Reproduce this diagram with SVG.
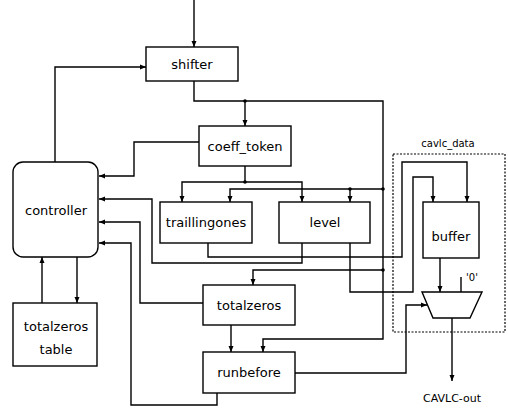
<svg xmlns="http://www.w3.org/2000/svg" width="508" height="408" viewBox="0 0 508 408">
<style>
.box{fill:#fff;stroke:#000;stroke-width:1.4}
.lbl{font-family:"DejaVu Sans",sans-serif;font-size:13px;fill:#000;text-anchor:middle}
.sm{font-family:"DejaVu Sans",sans-serif;font-size:10px;fill:#000;text-anchor:middle}
.w{fill:none;stroke:#000;stroke-width:1.4}
.a{marker-end:url(#arr)}
.dash{fill:none;stroke:#000;stroke-width:1.2;stroke-dasharray:2,1.5}
</style>
<defs>
<marker id="arr" markerUnits="userSpaceOnUse" markerWidth="6" markerHeight="6" refX="6" refY="3" orient="auto">
<path d="M0,0.5 L6,3 L0,5.5 z" fill="#000"/>
</marker>
</defs>
<rect width="508" height="408" fill="#fff"/>
<g id="cavlc_data">
<rect class="dash" x="393" y="154" width="112" height="178"/>
<text class="sm" x="448" y="147">cavlc_data</text>
</g>
<g id="connectors">
<path class="w a" d="M194,0 V47"/>
<path class="w a" d="M55,162 V67 H146"/>
<path class="w a" d="M194,81 V101 H383 V339 H263 V352"/>
<path class="w a" d="M245,101 V126"/>
<path class="w a" d="M383,189 H230 V202"/>
<path class="w a" d="M350,189 V202"/>
<path class="w a" d="M383,270 H253 V285"/>
<path class="w a" d="M199,142 H134 V176 H99"/>
<path class="w" d="M245,166 V182"/>
<path class="w a" d="M245,182 H182 V202"/>
<path class="w a" d="M245,182 H302 V202"/>
<path class="w a" d="M208,243 V257 H402 V162 H467 V202"/>
<path class="w a" d="M302,243 V263 H152 V199 H99"/>
<path class="w a" d="M350,243 V292 H413 V177 H433 V202"/>
<path class="w a" d="M203,303 H140 V222 H99"/>
<path class="w a" d="M231,325 V352"/>
<path class="w a" d="M217,393 V405 H131 V243 H99"/>
<path class="w a" d="M295,373 H406 V305 H427"/>
<path class="w a" d="M440,258 V292"/>
<path class="w" d="M461,277 V292"/>
<path class="w a" d="M452,318 V381"/>
<path class="w a" d="M42,303 V257"/>
<path class="w a" d="M77,257 V303"/>
<circle cx="245" cy="101" r="1.8"/>
<circle cx="245" cy="182" r="1.8"/>
<circle cx="350" cy="189" r="1.8"/>
<circle cx="383" cy="189" r="1.8"/>
<circle cx="383" cy="270" r="1.8"/>
</g>
<g id="shifter"><rect class="box" x="146" y="47" width="92" height="34"/><text class="lbl" x="192" y="69">shifter</text></g>
<g id="coeff_token"><rect class="box" x="199" y="126" width="92" height="40"/><text class="lbl" x="245" y="151">coeff_token</text></g>
<g id="controller"><rect class="box" x="13" y="162" width="85" height="95" rx="10"/><text class="lbl" x="56" y="215">controller</text></g>
<g id="traillingones"><rect class="box" x="160" y="202" width="92" height="41"/><text class="lbl" x="206" y="227">traillingones</text></g>
<g id="level"><rect class="box" x="279" y="202" width="91" height="41"/><text class="lbl" x="325" y="227">level</text></g>
<g id="totalzeros"><rect class="box" x="203" y="285" width="92" height="40"/><text class="lbl" x="249" y="310">totalzeros</text></g>
<g id="runbefore"><rect class="box" x="203" y="352" width="92" height="41"/><text class="lbl" x="249" y="377">runbefore</text></g>
<g id="totalzeros_table"><rect class="box" x="13" y="303" width="84" height="63"/><text class="lbl" x="56" y="331">totalzeros</text><text class="lbl" x="56" y="354">table</text></g>
<g id="buffer"><rect class="box" x="423" y="202" width="56" height="56"/><text class="lbl" x="451" y="241">buffer</text></g>
<g id="mux"><polygon class="box" points="422,292 482,292 470,318 433,318"/><text class="sm" x="472" y="281">'0'</text></g>
<g id="out"><text class="lbl" x="452" y="402" style="font-size:11px">CAVLC-out</text></g>
</svg>
